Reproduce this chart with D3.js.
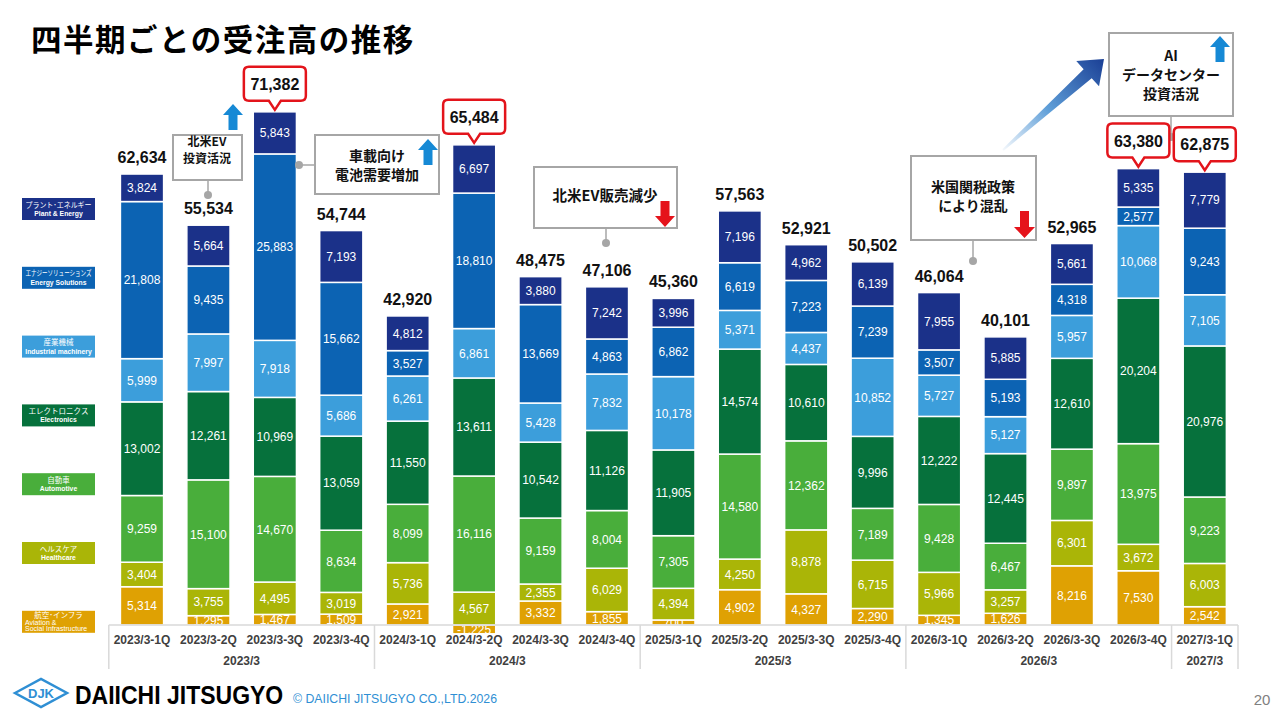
<!DOCTYPE html>
<html>
<head>
<meta charset="utf-8">
<script src="https://cdn.jsdelivr.net/npm/d3@7"></script>
<style>
  body { margin: 0; background: #fff; }
  svg { display: block; font-family: "Liberation Sans", Arial, sans-serif; }
  .jp { font-family: "Noto Sans CJK JP", "Noto Sans", sans-serif; }
</style>
</head>
<body>
<svg id="chart" width="1280" height="720"></svg>
<script>
var quarters = ['2023/3-1Q', '2023/3-2Q', '2023/3-3Q', '2023/3-4Q',
  '2024/3-1Q', '2024/3-2Q', '2024/3-3Q', '2024/3-4Q',
  '2025/3-1Q', '2025/3-2Q', '2025/3-3Q', '2025/3-4Q',
  '2026/3-1Q', '2026/3-2Q', '2026/3-3Q', '2026/3-4Q',
  '2027/3-1Q'];
var fiscalYears = ['2023/3', '2024/3', '2025/3', '2026/3', '2027/3'];
var quartersPerYear = [4, 4, 4, 4, 1];

// segments, bottom of the stack first
var aviation    = [5314, 1295, 1467, 1509, 2921, -1225, 3332, 1855, 700, 4902, 4327, 2290, 1345, 1626, 8216, 7530, 2542];
var healthcare  = [3404, 3755, 4495, 3019, 5736, 4567, 2355, 6029, 4394, 4250, 8878, 6715, 5966, 3257, 6301, 3672, 6003];
var automotive  = [9259, 15100, 14670, 8634, 8099, 16116, 9159, 8004, 7305, 14580, 12362, 7189, 9428, 6467, 9897, 13975, 9223];
var electronics = [13002, 12261, 10969, 13059, 11550, 13611, 10542, 11126, 11905, 14574, 10610, 9996, 12222, 12445, 12610, 20204, 20976];
var industrial  = [5999, 7997, 7918, 5686, 6261, 6861, 5428, 7832, 10178, 5371, 4437, 10852, 5727, 5127, 5957, 10068, 7105];
var energySol   = [21808, 9435, 25883, 15662, 3527, 18810, 13669, 4863, 6862, 6619, 7223, 7239, 3507, 5193, 4318, 2577, 9243];
var plantEnergy = [3824, 5664, 5843, 7193, 4812, 6697, 3880, 7242, 3996, 7196, 4962, 6139, 7955, 5885, 5661, 5335, 7779];
var totals = [62634, 55534, 71382, 54744, 42920, 65484, 48475, 47106, 45360, 57563, 52921, 50502, 46064, 40101, 52965, 63380, 62875];
var highlightQuarters = ['2023/3-3Q', '2024/3-2Q', '2026/3-4Q', '2027/3-1Q'];

var segmentKeys = ['aviation', 'healthcare', 'automotive', 'electronics', 'industrial', 'energySol', 'plantEnergy'];
var segmentNamesJp = ['航空･インフラ', 'ヘルスケア', '自動車', 'エレクトロニクス', '産業機械', 'エナジーソリューションズ', 'プラント･エネルギー'];
var segmentNamesEn = ['Aviation &\nSocial Infrastructure', 'Healthcare', 'Automotive', 'Electronics', 'Industrial machinery', 'Energy Solutions', 'Plant & Energy'];
var segmentValues = [aviation, healthcare, automotive, electronics, industrial, energySol, plantEnergy];

var colors = ['#dfa103', '#aab507', '#49ae3b', '#06713c', '#3c9edb', '#0c63b3', '#1b3189'];

var svg = d3.select('#chart');
var baseY = 625;

var rows = quarters.map(function (q, i) {
  var row = { quarter: q };
  segmentKeys.forEach(function (k, j) { row[k] = segmentValues[j][i]; });
  return row;
});

var series = d3.stack()
  .keys(segmentKeys)
  .offset(d3.stackOffsetDiverging)(rows);

var x = d3.scaleBand()
  .domain(quarters)
  .range([108.8, 1238])
  .paddingInner(0.35)
  .paddingOuter(0.175);

var y = d3.scaleLinear()
  .domain([0, 72000])
  .range([baseY, 106.4]);

var color = d3.scaleOrdinal().domain(segmentKeys).range(colors);
var fmt = function (v) { return d3.format(',')(v).replace('\u2212', '-'); };

var defs = svg.append('defs');
defs.append('clipPath')
  .attr('id', 'above-axis')
  .append('rect')
  .attr('x', 0).attr('y', 0)
  .attr('width', 1280).attr('height', baseY);

// title
svg.append('text')
  .attr('class', 'jp')
  .attr('x', 31)
  .attr('y', 51)
  .attr('font-size', 30.5)
  .attr('font-weight', 700)
  .attr('letter-spacing', 1.5)
  .attr('fill', '#000')
  .text('四半期ごとの受注高の推移');

// bars
var layers = svg.append('g').selectAll('g')
  .data(series)
  .enter()
  .append('g')
  .attr('fill', function (d) { return color(d.key); });

layers.selectAll('rect')
  .data(function (d) { return d; })
  .enter()
  .append('rect')
  .attr('x', function (d) { return x(d.data.quarter); })
  .attr('y', function (d) { return y(Math.max(d[0], d[1])); })
  .attr('width', x.bandwidth())
  .attr('height', function (d) { return Math.abs(y(d[0]) - y(d[1])); })
  .attr('stroke', '#fff')
  .attr('stroke-width', 1.5);

layers.selectAll('text')
  .data(function (d) { return d.map(function (p) { p.key = d.key; return p; }); })
  .enter()
  .append('text')
  .attr('clip-path', function (d) { return d.data[d.key] > 0 ? 'url(#above-axis)' : null; })
  .attr('x', function (d) { return x(d.data.quarter) + x.bandwidth() / 2; })
  .attr('y', function (d) { return (y(d[0]) + y(d[1])) / 2 + 4.3; })
  .attr('text-anchor', 'middle')
  .attr('font-size', 12)
  .attr('fill', '#fff')
  .text(function (d) { return fmt(d.data[d.key]); });

// quarter axis table
var axisG = svg.append('g')
  .attr('transform', 'translate(0,' + baseY + ')')
  .call(d3.axisBottom(x).tickSize(0).tickPadding(10));
axisG.select('.domain').remove();
axisG.selectAll('text')
  .attr('font-family', '"Liberation Sans", Arial, sans-serif')
  .attr('font-size', 12)
  .attr('font-weight', 700)
  .attr('fill', '#404040');

svg.append('line')
  .attr('x1', x.range()[0]).attr('x2', x.range()[1])
  .attr('y1', baseY).attr('y2', baseY)
  .attr('stroke', '#d9d9d9').attr('stroke-width', 1.5);

var start = 0;
var yearBlocks = fiscalYears.map(function (fy, i) {
  var b = { label: fy, first: quarters[start], last: quarters[start + quartersPerYear[i] - 1] };
  start += quartersPerYear[i];
  return b;
});

var edges = [x.range()[0]].concat(yearBlocks.map(function (b) {
  return x(b.last) + x.bandwidth() + x.step() * 0.175;
}));
svg.append('g').selectAll('line')
  .data(edges)
  .enter()
  .append('line')
  .attr('x1', function (d) { return d; })
  .attr('x2', function (d) { return d; })
  .attr('y1', baseY)
  .attr('y2', 669)
  .attr('stroke', '#d9d9d9')
  .attr('stroke-width', 1.5);

svg.append('g').selectAll('text')
  .data(yearBlocks)
  .enter()
  .append('text')
  .attr('x', function (d) { return (x(d.first) + x(d.last) + x.bandwidth()) / 2; })
  .attr('y', 665)
  .attr('text-anchor', 'middle')
  .attr('font-size', 12)
  .attr('font-weight', 700)
  .attr('fill', '#404040')
  .text(function (d) { return d.label; });

// totals
var totalRows = quarters.map(function (q, i) {
  var top = d3.max(series, function (s) { return s[i][1]; });
  return { quarter: q, total: totals[i], top: top, hot: highlightQuarters.indexOf(q) >= 0 };
});

svg.append('g').selectAll('text')
  .data(totalRows.filter(function (d) { return !d.hot; }))
  .enter()
  .append('text')
  .attr('x', function (d) { return x(d.quarter) + x.bandwidth() / 2; })
  .attr('y', function (d) { return y(d.top) - 11; })
  .attr('text-anchor', 'middle')
  .attr('font-size', 16)
  .attr('font-weight', 700)
  .attr('fill', '#111')
  .text(function (d) { return fmt(d.total); });

function calloutPath (cx, tipY) {
  var w = 62, h = 34, r = 5, tw = 6;
  var bottom = tipY - 9, top = bottom - h, left = cx - w / 2, right = cx + w / 2;
  var p = d3.path();
  p.moveTo(left + r, top);
  p.lineTo(right - r, top);
  p.quadraticCurveTo(right, top, right, top + r);
  p.lineTo(right, bottom - r);
  p.quadraticCurveTo(right, bottom, right - r, bottom);
  p.lineTo(cx + tw, bottom);
  p.lineTo(cx, tipY);
  p.lineTo(cx - tw, bottom);
  p.lineTo(left + r, bottom);
  p.quadraticCurveTo(left, bottom, left, bottom - r);
  p.lineTo(left, top + r);
  p.quadraticCurveTo(left, top, left + r, top);
  p.closePath();
  return p.toString();
}

// annotation boxes
function blockArrow (x0, y0, w, h, up) {
  var cx = x0 + w / 2, hh = 11, sw = 9;
  var pts = up
    ? [[cx, y0], [x0 + w, y0 + hh], [cx + sw / 2, y0 + hh], [cx + sw / 2, y0 + h], [cx - sw / 2, y0 + h], [cx - sw / 2, y0 + hh], [x0, y0 + hh]]
    : [[cx, y0 + h], [x0 + w, y0 + h - hh], [cx + sw / 2, y0 + h - hh], [cx + sw / 2, y0], [cx - sw / 2, y0], [cx - sw / 2, y0 + h - hh], [x0, y0 + h - hh]];
  return 'M' + pts.join('L') + 'Z';
}

var notes = [
  { x: 173, y: 135, w: 69, h: 45, size: 12, lines: ['北米EV', '投資活況'], lineY: [146, 163], cx: 207,
    link: [[208, 180], [208, 195]], arrow: [223, 104, 20, 26, true] },
  { x: 315, y: 135, w: 124, h: 59, size: 14, lines: ['車載向け', '電池需要増加'], lineY: [161, 180], cx: 377,
    link: [[315, 165], [299, 165]], arrow: [418, 139, 20, 26, true] },
  { x: 534, y: 167, w: 143, h: 61, size: 14.5, lines: ['北米EV販売減少'], lineY: [201], cx: 605,
    link: [[606, 228], [606, 243]], arrow: [655, 201, 20, 26, false] },
  { x: 911, y: 156, w: 125, h: 84, size: 14, lines: ['米国関税政策', 'により混乱'], lineY: [192, 211], cx: 973,
    link: [[973, 240], [973, 261]], arrow: [1014, 211, 21, 27, false] },
  { x: 1109, y: 33, w: 124, h: 83, size: 14, lines: ['AI', 'データセンター', '投資活況'], lineY: [61, 80, 99], cx: 1171,
    link: [[1171, 116], [1171, 137]], arrow: [1210, 36, 20, 26, true] }
];

// big gradient arrow toward the AI note
var grad = defs.append('linearGradient')
  .attr('id', 'trend')
  .attr('gradientUnits', 'userSpaceOnUse')
  .attr('x1', 1003).attr('y1', 150).attr('x2', 1104).attr('y2', 59);
grad.append('stop').attr('offset', 0).attr('stop-color', '#f4f8fc');
grad.append('stop').attr('offset', 0.45).attr('stop-color', '#5e9ed8');
grad.append('stop').attr('offset', 1).attr('stop-color', '#1a3f95');

var tail = [1003, 150], tip = [1104, 59];
var len = Math.hypot(tip[0] - tail[0], tip[1] - tail[1]);
var ux = (tip[0] - tail[0]) / len, uy = (tip[1] - tail[1]) / len;
var px = -uy, py = ux;
var hb = [tip[0] - 22 * ux, tip[1] - 22 * uy];
var trendPts = [
  [tail[0] + px, tail[1] + py],
  [hb[0] + 6 * px, hb[1] + 6 * py],
  [hb[0] + 17 * px, hb[1] + 17 * py],
  tip,
  [hb[0] - 17 * px, hb[1] - 17 * py],
  [hb[0] - 6 * px, hb[1] - 6 * py],
  [tail[0] - px, tail[1] - py]
];
svg.append('path')
  .attr('d', 'M' + trendPts.join('L') + 'Z')
  .attr('fill', 'url(#trend)');

var noteG = svg.append('g').selectAll('g')
  .data(notes)
  .enter()
  .append('g');

noteG.append('line')
  .attr('x1', function (d) { return d.link[0][0]; })
  .attr('y1', function (d) { return d.link[0][1]; })
  .attr('x2', function (d) { return d.link[1][0]; })
  .attr('y2', function (d) { return d.link[1][1]; })
  .attr('stroke', '#a6a6a6')
  .attr('stroke-width', 1.5);

noteG.append('circle')
  .attr('cx', function (d) { return d.link[1][0]; })
  .attr('cy', function (d) { return d.link[1][1]; })
  .attr('r', 4)
  .attr('fill', '#a6a6a6');

noteG.append('rect')
  .attr('x', function (d) { return d.x; })
  .attr('y', function (d) { return d.y; })
  .attr('width', function (d) { return d.w; })
  .attr('height', function (d) { return d.h; })
  .attr('fill', '#fff')
  .attr('stroke', '#a6a6a6')
  .attr('stroke-width', 2);

noteG.each(function (d) {
  var g = d3.select(this);
  d.lines.forEach(function (line, i) {
    g.append('text')
      .attr('class', 'jp')
      .attr('x', d.cx)
      .attr('y', d.lineY[i])
      .attr('text-anchor', 'middle')
      .attr('font-size', d.size)
      .attr('font-weight', 700)
      .attr('fill', '#111')
      .text(line);
  });
  g.append('path')
    .attr('d', blockArrow.apply(null, d.arrow))
    .attr('fill', d.arrow[4] ? '#1689d5' : '#e5131b');
});

// highlighted totals
var hot = svg.append('g').selectAll('g')
  .data(totalRows.filter(function (d) { return d.hot; }))
  .enter()
  .append('g');

hot.append('path')
  .attr('d', function (d) { return calloutPath(x(d.quarter) + x.bandwidth() / 2, y(d.top) - 2); })
  .attr('fill', '#fff')
  .attr('stroke', '#e3141b')
  .attr('stroke-width', 2.5);

hot.append('text')
  .attr('x', function (d) { return x(d.quarter) + x.bandwidth() / 2; })
  .attr('y', function (d) { return y(d.top) - 2 - 9 - 17 + 6; })
  .attr('text-anchor', 'middle')
  .attr('font-size', 16)
  .attr('font-weight', 700)
  .attr('fill', '#111')
  .text(function (d) { return fmt(d.total); });

// left legend, top item first
var legendItems = segmentKeys.map(function (k, i) {
  return { key: k, jp: segmentNamesJp[i], en: segmentNamesEn[i] };
}).reverse();

var legend = svg.append('g').selectAll('g')
  .data(legendItems)
  .enter()
  .append('g')
  .attr('transform', function (d, i) { return 'translate(22,' + (209 + i * 68.8) + ')'; });

legend.append('rect')
  .attr('x', 0).attr('y', -11)
  .attr('width', 73).attr('height', 22)
  .attr('fill', function (d) { return color(d.key); });

legend.each(function (d) {
  var g = d3.select(this);
  var enLines = d.en.split('\n');
  var multi = enLines.length > 1;
  var jp = g.append('text')
    .attr('class', 'jp')
    .attr('x', 36.5)
    .attr('y', multi ? -3.5 : -1.5)
    .attr('text-anchor', 'middle')
    .attr('font-size', 7.5)
    .attr('fill', '#fff')
    .text(d.jp);
  if (jp.node().getComputedTextLength() > 66) {
    jp.attr('textLength', 66).attr('lengthAdjust', 'spacingAndGlyphs');
  }
  enLines.forEach(function (line, i) {
    g.append('text')
      .attr('x', multi ? 3 : 36.5)
      .attr('y', multi ? 3 + i * 6 : 7)
      .attr('text-anchor', multi ? 'start' : 'middle')
      .attr('font-size', multi ? 7 : 6.8)
      .attr('font-weight', multi ? 400 : 700)
      .attr('fill', '#fff')
      .text(line);
  });
});

// footer
var logo = svg.append('g').attr('transform', 'translate(41,693)');
logo.append('path')
  .attr('d', 'M-26,0L0,-14L26,0L0,14Z')
  .attr('fill', '#fff')
  .attr('stroke', '#2f8fd4')
  .attr('stroke-width', 2.5);
logo.append('text')
  .attr('y', 4.5)
  .attr('text-anchor', 'middle')
  .attr('font-size', 13)
  .attr('font-weight', 700)
  .attr('fill', '#2f8fd4')
  .text('DJK');

svg.append('text')
  .attr('transform', 'translate(75,704) scale(0.92,1)')
  .attr('font-size', 25)
  .attr('font-weight', 700)
  .attr('fill', '#000')
  .text('DAIICHI JITSUGYO');

svg.append('text')
  .attr('x', 293).attr('y', 703)
  .attr('font-size', 12)
  .attr('fill', '#2f8fd4')
  .attr('textLength', 204)
  .attr('lengthAdjust', 'spacingAndGlyphs')
  .text('\u00a9 DAIICHI JITSUGYO CO.,LTD.2026');

svg.append('text')
  .attr('x', 1262).attr('y', 705)
  .attr('text-anchor', 'middle')
  .attr('font-size', 15)
  .attr('fill', '#808080')
  .text('20');
</script>
</body>
</html>
